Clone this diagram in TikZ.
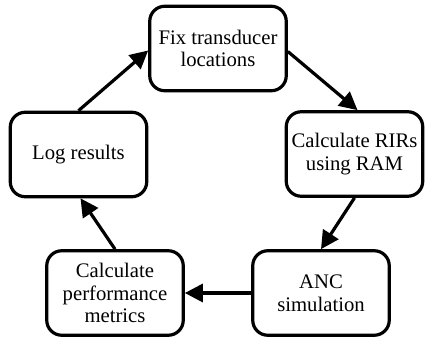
\documentclass[tikz,border=0pt]{standalone}
\usepackage{fontspec}
\setmainfont{Liberation Serif}
\usetikzlibrary{arrows.meta}
\begin{document}
\begin{tikzpicture}[x=1pt,y=1pt,
  stepbox/.style={draw=black, line width=3.2pt, rounded corners=15pt,
    minimum width=136.5pt, minimum height=84.5pt, align=center, inner sep=2pt,
    font=\fontsize{20.7}{22.5}\selectfont},
  flow/.style={line width=3.2pt, -{Triangle[length=18pt,width=18pt]}}]
\useasboundingbox (0,0) rectangle (425,338);
\node[stepbox] (fix)  at (218,289.5) {Fix transducer\\locations};
\node[stepbox] (rir)  at (354.5,184) {Calculate RIRs\\using RAM};
\node[stepbox] (log)  at (78.5,183.5) {Log results};
\node[stepbox] (perf) at (115,45) {Calculate\\performance\\metrics};
\node[stepbox] (anc)  at (321,45) {ANC\\simulation};
\draw[flow] (log.north) -- ([yshift=-2pt]fix.west);
\draw[flow] ([yshift=-3pt]fix.east) -- ([xshift=3pt]rir.north);
\draw[flow] (rir.south) -- (anc.north);
\draw[flow] (anc.west) -- (perf.east);
\draw[flow] (perf.north) -- ([xshift=2pt]log.south);
\end{tikzpicture}
\end{document}
